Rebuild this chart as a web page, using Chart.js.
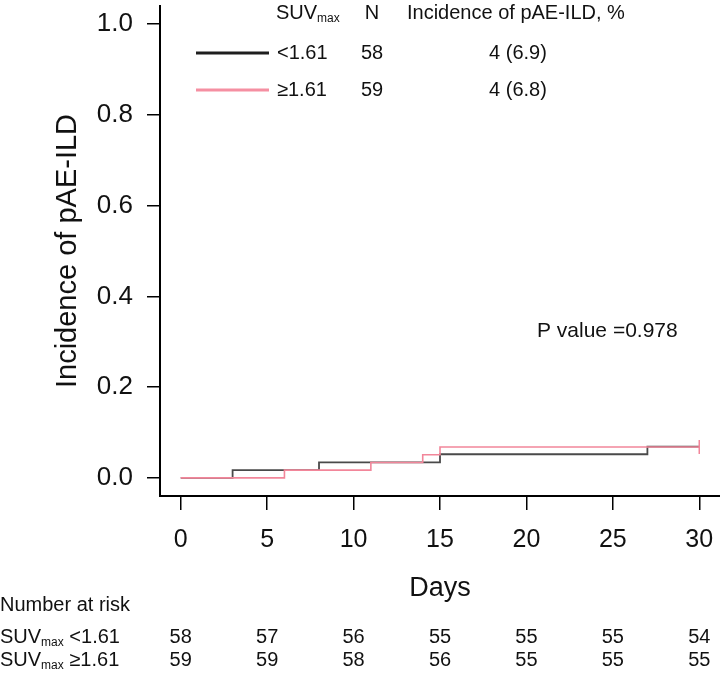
<!DOCTYPE html>
<html>
<head>
<meta charset="utf-8">
<script src="https://cdn.jsdelivr.net/npm/chart.js@4/dist/chart.umd.min.js"></script>
<style>
  html, body { margin: 0; padding: 0; background: #fff; }
  #wrap { width: 720px; height: 680px; }
</style>
</head>
<body>
<div id="wrap"><canvas id="c" width="720" height="680"></canvas></div>
<script>
// ---- data ----
const dayTicks = [0, 5, 10, 15, 20, 25, 30];
const yTicks = [0, 0.2, 0.4, 0.6, 0.8, 1.0];
const lowTimes = [0, 3, 8, 15, 27, 30];
const lowIncidence = [0, 0.017, 0.034, 0.052, 0.069, 0.069];
const highTimes = [0, 6, 11, 14, 15, 30];
const highIncidence = [0, 0.017, 0.034, 0.051, 0.068, 0.068];
const censorTimes = [30];
const censorIncidence = [0.068];
const groupLabels = ['<1.61', '\u22651.61'];
const groupN = ['58', '59'];
const groupIncidence = ['4 (6.9)', '4 (6.8)'];
const riskLow = [58, 57, 56, 55, 55, 55, 54];
const riskHigh = [59, 59, 58, 56, 55, 55, 55];
const pValueText = 'P value =0.978';

const FONT = '"Liberation Sans", Arial, Helvetica, sans-serif';
const BLACK_LINE = '#4a4a4a';
const PINK_LINE = '#f2869a';
const BLACK_LEG = '#1e1e1e';
const PINK_LEG = '#f58fa2';

function pts(xs, ys) { return xs.map((x, i) => ({ x: x, y: ys[i] })); }

function noPad(s) {
  s.paddingTop = 0; s.paddingBottom = 0; s.paddingLeft = 0; s.paddingRight = 0;
}

function drawSUV(ctx, x, y, size, tail) {
  ctx.textAlign = 'left';
  ctx.textBaseline = 'middle';
  ctx.font = size + 'px ' + FONT;
  ctx.fillText('SUV', x, y);
  let w = ctx.measureText('SUV').width;
  const sub = Math.round(size * 0.62);
  ctx.font = sub + 'px ' + FONT;
  ctx.fillText('max', x + w, y + size * 0.28);
  w += ctx.measureText('max').width;
  if (tail) {
    ctx.font = size + 'px ' + FONT;
    ctx.fillText(tail, x + w, y);
    w += ctx.measureText(tail).width;
  }
  return w;
}

const textPlugin = {
  id: 'textPlugin',
  afterDraw(chart) {
    const ctx = chart.ctx;
    const xs = chart.scales.x;
    ctx.save();
    ctx.fillStyle = '#111';
    // legend header
    drawSUV(ctx, 276, 13, 20);
    ctx.font = '20px ' + FONT;
    ctx.textBaseline = 'middle';
    ctx.textAlign = 'center';
    ctx.fillText('N', 372, 13);
    ctx.textAlign = 'left';
    ctx.fillText('Incidence of pAE-ILD, %', 407, 13);
    // legend rows
    const rowY = [53, 90];
    const legColors = [BLACK_LEG, PINK_LEG];
    for (let i = 0; i < 2; i++) {
      ctx.strokeStyle = legColors[i];
      ctx.lineWidth = 3;
      ctx.beginPath();
      ctx.moveTo(196, rowY[i]);
      ctx.lineTo(269, rowY[i]);
      ctx.stroke();
      ctx.font = '20px ' + FONT;
      ctx.textAlign = 'left';
      ctx.fillText(groupLabels[i], 277, rowY[i]);
      ctx.textAlign = 'center';
      ctx.fillText(groupN[i], 372, rowY[i]);
      ctx.fillText(groupIncidence[i], 518, rowY[i]);
    }
    // p value
    ctx.font = '21px ' + FONT;
    ctx.textAlign = 'left';
    ctx.fillText(pValueText, 537, 331);
    // number at risk
    ctx.font = '20px ' + FONT;
    ctx.fillText('Number at risk', 0, 605);
    const rows = [riskLow, riskHigh];
    const ry = [637, 660];
    for (let r = 0; r < 2; r++) {
      drawSUV(ctx, 0, ry[r], 20, ' ' + groupLabels[r]);
      ctx.font = '20px ' + FONT;
      ctx.textAlign = 'center';
      ctx.textBaseline = 'middle';
      rows[r].forEach((v, i) => {
        ctx.fillText(String(v), xs.getPixelForValue(dayTicks[i]), ry[r]);
      });
    }
    ctx.restore();
  }
};

new Chart(document.getElementById('c'), {
  type: 'line',
  data: {
    datasets: [
      {
        label: 'censor',
        data: pts(censorTimes, censorIncidence),
        showLine: false,
        pointStyle: 'line',
        rotation: 90,
        pointRadius: 7,
        borderColor: PINK_LINE,
        pointBorderColor: PINK_LINE,
        pointBorderWidth: 1.5
      },
      {
        label: '\u22651.61',
        data: pts(highTimes, highIncidence),
        stepped: 'before',
        borderColor: PINK_LINE,
        borderWidth: 1.6,
        pointRadius: 0,
        fill: false
      },
      {
        label: '<1.61',
        data: pts(lowTimes, lowIncidence),
        stepped: 'before',
        borderColor: BLACK_LINE,
        borderWidth: 1.8,
        pointRadius: 0,
        fill: false
      }
    ]
  },
  options: {
    responsive: false,
    animation: false,
    layout: { autoPadding: false, padding: { top: 6, right: 0, left: 0, bottom: 0 } },
    plugins: { legend: { display: false }, tooltip: { enabled: false } },
    scales: {
      x: {
        type: 'linear',
        min: -1.2,
        max: 31.2,
        afterBuildTicks: s => { s.ticks = dayTicks.map(v => ({ value: v })); },
        afterFit: s => { s.height = 184; noPad(s); },
        grid: { drawOnChartArea: false, drawTicks: true, tickLength: 14, color: '#000', lineWidth: 1.5 },
        border: { display: true, color: '#000', width: 2 },
        ticks: { font: { family: FONT, size: 25 }, color: '#111', padding: 15, maxRotation: 0, autoSkip: false,
                 callback: v => String(v) },
        title: { display: true, text: 'Days', font: { family: FONT, size: 27 }, color: '#111',
                 padding: { top: 0, bottom: 75 } }
      },
      y: {
        type: 'linear',
        min: -0.04,
        max: 1.04,
        afterBuildTicks: s => { s.ticks = yTicks.map(v => ({ value: v })); },
        afterFit: s => { s.width = 160; noPad(s); },
        grid: { drawOnChartArea: false, drawTicks: true, tickLength: 13, color: '#000', lineWidth: 1.5 },
        border: { display: true, color: '#000', width: 2 },
        ticks: { font: { family: FONT, size: 26 }, color: '#111', padding: 14,
                 callback: v => Number(v).toFixed(1) },
        title: { display: true, text: 'Incidence of pAE-ILD', font: { family: FONT, size: 29 }, color: '#111',
                 padding: { top: 51, bottom: 0 } }
      }
    }
  },
  plugins: [textPlugin]
});
</script>
</body>
</html>
